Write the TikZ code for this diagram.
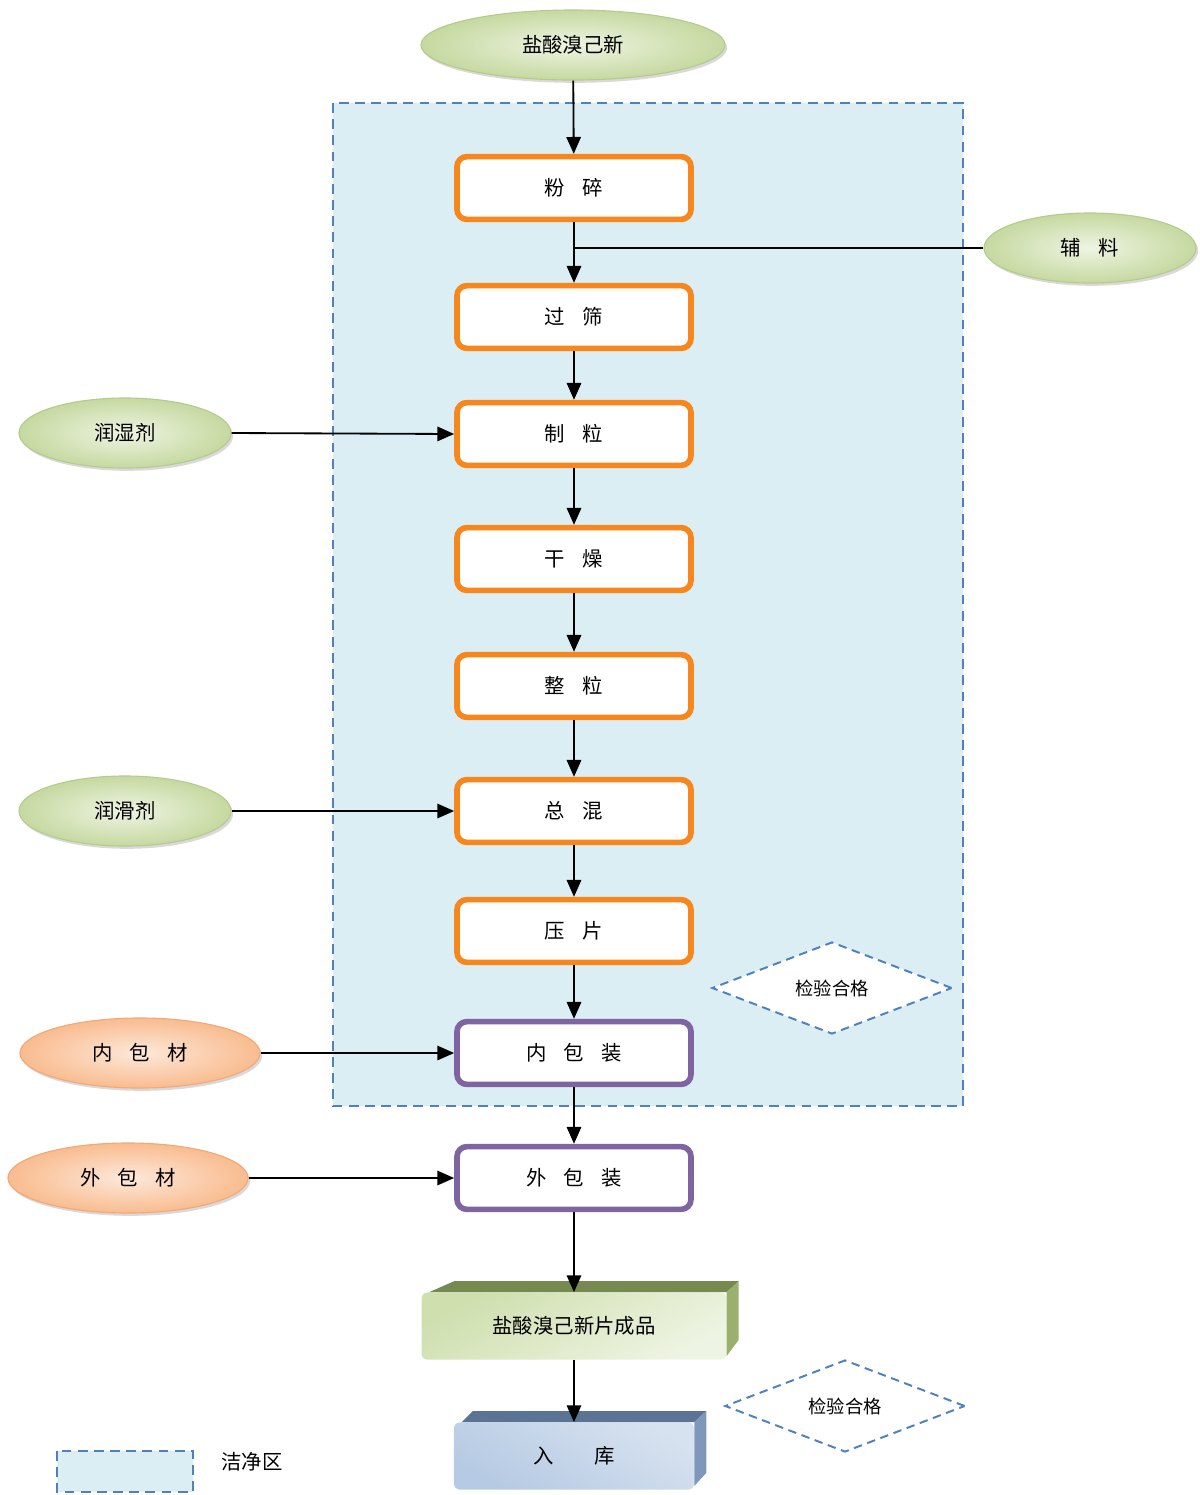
\documentclass[tikz,border=0pt]{standalone}
\usepackage{fontspec}
\newfontfamily\cjk{Noto Sans CJK SC}
\usetikzlibrary{arrows.meta,shapes.geometric,shadows,calc}
\definecolor{cleanfill}{HTML}{DBEEF4}
\definecolor{cleanline}{HTML}{4F81BD}
\definecolor{steporange}{HTML}{F7861C}
\definecolor{packpurple}{HTML}{8064A2}
\definecolor{matgreen}{HTML}{C6D9A0}
\definecolor{matgreenlt}{HTML}{EEF4E3}
\definecolor{matgreenline}{HTML}{B5CB8E}
\definecolor{wraporange}{HTML}{F9BC8F}
\definecolor{wraporangelt}{HTML}{FDE8DA}
\definecolor{wraporangeline}{HTML}{F3A877}
\definecolor{prodtop}{HTML}{76894F}
\definecolor{prodside}{HTML}{9BB06C}
\definecolor{prodfront}{HTML}{CFDFAE}
\definecolor{storetop}{HTML}{5B7394}
\definecolor{storeside}{HTML}{7F98BA}
\definecolor{storefront}{HTML}{B6CAE3}
\newcommand{\cgap}{\hspace{0.85em}}

\begin{document}
\begin{tikzpicture}[x=0.025cm, y=-0.025cm,
  font=\cjk\fontsize{14.5}{17}\selectfont,
  >={Triangle[length=4.2mm,width=3.6mm]},
  flow/.style={->, draw=black, line width=1.3pt},
  feed/.style={draw=black, line width=1.3pt},
  stepbox/.style={draw=steporange, line width=4pt, rounded corners=2.5mm,
    fill=white, minimum width=5.85cm, minimum height=1.57cm},
  packbox/.style={stepbox, draw=packpurple},
  material/.style={ellipse, draw=matgreenline, line width=0.8pt,
    inner color=matgreenlt, outer color=matgreen,
    minimum width=5.3cm, minimum height=1.75cm,
    drop shadow={shadow xshift=1.5pt, shadow yshift=-2pt, opacity=0.3}},
  wrapmat/.style={material, draw=wraporangeline,
    inner color=wraporangelt, outer color=wraporange, minimum width=6cm},
  check/.style={diamond, draw=cleanline, dash pattern=on 6pt off 4pt,
    line width=1.4pt, fill=white, minimum width=6cm, minimum height=2.3cm,
    inner sep=0pt, font=\cjk\fontsize{13}{15}\selectfont},
  cleanzone/.style={draw=cleanline, fill=cleanfill, line width=1.3pt,
    dash pattern=on 7pt off 4.5pt},
  face/.style={rounded corners=1.5mm, minimum height=1.68cm}
]
\useasboundingbox (0,0) rectangle (1200,1495);

% clean area
\draw[cleanzone] (333,103) rectangle (963,1106);

\node[material, minimum width=7.6cm] (raw) at (573,45) {盐酸溴己新};

\node[stepbox] (crush) at (574,188) {粉\cgap 碎};
\node[material] (excip) at (1090,248) {辅\cgap 料};
\node[stepbox] (sieve) at (574,317) {过\cgap 筛};
\node[material] (wetting) at (125,433) {润湿剂};
\node[stepbox] (granulate) at (574,434) {制\cgap 粒};
\node[stepbox] (dry) at (574,559) {干\cgap 燥};
\node[stepbox] (size) at (574,686) {整\cgap 粒};
\node[material] (lubricant) at (125,811) {润滑剂};
\node[stepbox] (blend) at (574,811) {总\cgap 混};
\node[stepbox] (press) at (574,931) {压\cgap 片};
\node[check] (check1) at (832,988) {检验合格};

\node[wrapmat] (innermat) at (140,1053) {内\cgap 包\cgap 材};
\node[packbox] (innerpack) at (574,1053) {内\cgap 包\cgap 装};
\node[wrapmat] (outermat) at (128,1178) {外\cgap 包\cgap 材};
\node[packbox] (outerpack) at (574,1178) {外\cgap 包\cgap 装};

% finished product, 3D box
\node[face, minimum width=7.62cm, top color=prodfront, bottom color=prodfront!35!white,
  shading angle=30] (product) at (574,1326) {盐酸溴己新片成品};
\fill[prodtop] ($(product.north west)+(8,0)$) -- ($(product.north west)+(33,-11)$)
  -- ($(product.north east)+(12,-11)$) -- (product.north east) -- cycle;
\fill[prodside] (product.north east) -- ($(product.north east)+(12,-11)$)
  -- ($(product.south east)+(12,-20)$) -- ($(product.south east)+(0,-4)$) -- cycle;

\node[check] (check2) at (845,1406) {检验合格};

\node[face, minimum width=6cm, top color=storefront!55!white, bottom color=storefront,
  shading angle=-30] (store) at (574,1456) {入\hspace{2em}库};
\fill[storetop] ($(store.north west)+(8,0)$) -- ($(store.north west)+(19,-11)$)
  -- ($(store.north east)+(12,-11)$) -- (store.north east) -- cycle;
\fill[storeside] (store.north east) -- ($(store.north east)+(12,-11)$)
  -- ($(store.south east)+(12,-17)$) -- ($(store.south east)+(0,-4)$) -- cycle;

% legend
\draw[cleanzone] (57,1451) rectangle (193,1492);
\node (legendtext) at (252,1462) {洁净区};

% connectors
\coordinate (join) at (excip.west -| crush);
\draw[flow] (raw) -- (crush);
\draw[flow] (crush) -- (sieve);
\draw[feed] (excip.west) -- (join);
\draw[flow] (sieve) -- (granulate);
\draw[flow] (wetting.east) -- (granulate.west);
\draw[flow] (granulate) -- (dry);
\draw[flow] (dry) -- (size);
\draw[flow] (size) -- (blend);
\draw[flow] (lubricant.east) -- (blend.west);
\draw[flow] (blend) -- (press);
\draw[flow] (press) -- (innerpack);
\draw[flow] (innermat.east) -- (innerpack.west);
\draw[flow] (innerpack) -- (outerpack);
\draw[flow] (outermat.east) -- (outerpack.west);
\draw[flow] (outerpack) -- (product.north);
\draw[flow] (product.south) -- (store.north);
\end{tikzpicture}
\end{document}
